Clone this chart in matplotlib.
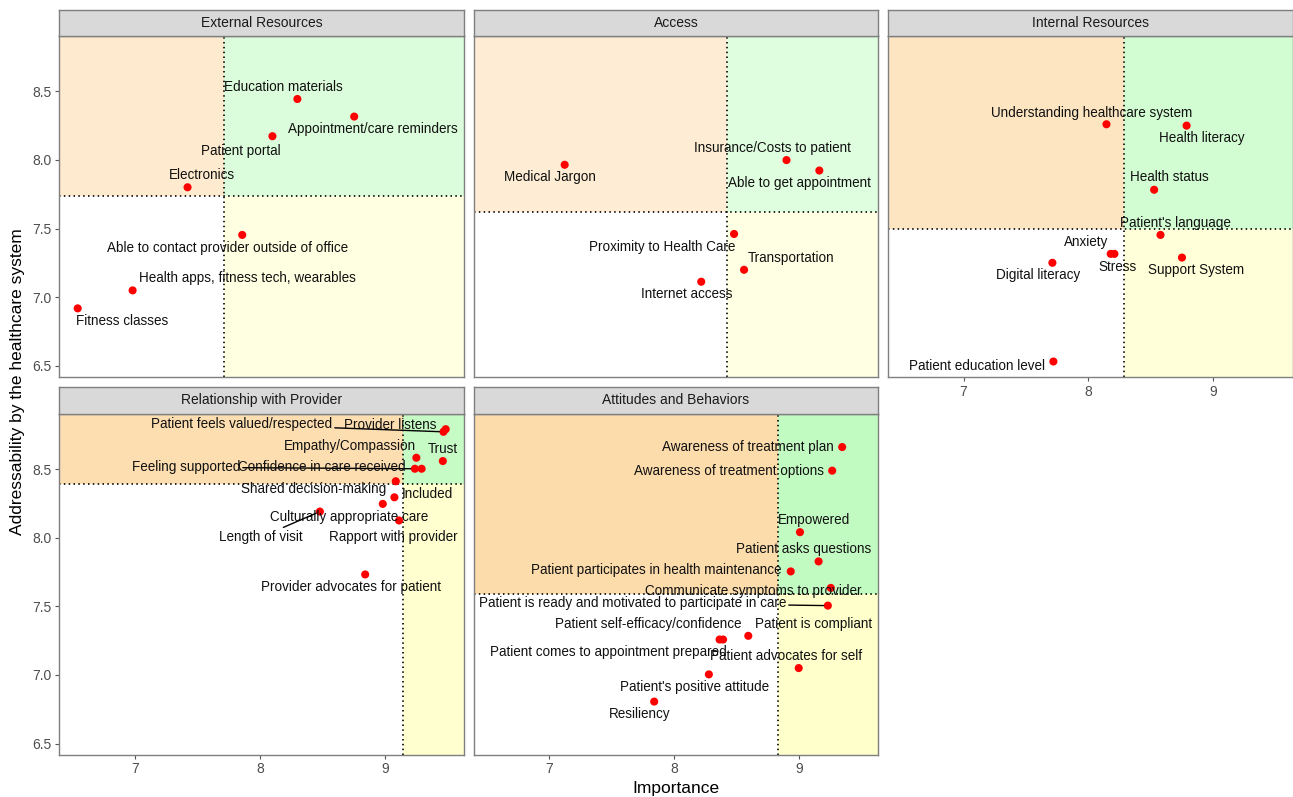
import matplotlib
matplotlib.use("Agg")
import matplotlib.pyplot as plt
from matplotlib.patches import Rectangle
import numpy as np

plt.rcParams['font.family'] = ['Liberation Sans', 'DejaVu Sans']

# ---------------------------------------------------------------- data
facets = ["External Resources", "Access", "Internal Resources",
          "Relationship with Provider", "Attitudes and Behaviors"]

ext_labels = ["Education materials", "Appointment/care reminders", "Patient portal",
              "Electronics", "Able to contact provider outside of office",
              "Health apps, fitness tech, wearables", "Fitness classes"]
ext_importance = [8.30, 8.755, 8.10, 7.42, 7.858, 6.98, 6.54]
ext_address = [8.444, 8.316, 8.173, 7.801, 7.454, 7.050, 6.919]

acc_labels = ["Medical Jargon", "Insurance/Costs to patient", "Able to get appointment",
              "Proximity to Health Care", "Transportation", "Internet access"]
acc_importance = [7.123, 8.90, 9.163, 8.48, 8.56, 8.217]
acc_address = [7.965, 7.999, 7.923, 7.461, 7.200, 7.113]

int_labels = ["Understanding healthcare system", "Health literacy", "Health status",
              "Patient's language", "Anxiety", "Stress", "Digital literacy",
              "Support System", "Patient education level"]
int_importance = [8.145, 8.787, 8.527, 8.578, 8.179, 8.209, 7.712, 8.75, 7.72]
int_address = [8.260, 8.250, 7.783, 7.454, 7.316, 7.316, 7.251, 7.289, 6.532]

rel_labels = ["Patient feels valued/respected", "Provider listens", "Trust",
              "Empathy/Compassion", "Feeling supported", "Confidence in care received",
              "Shared decision-making", "Included", "Culturally appropriate care",
              "Length of visit", "Rapport with provider", "Provider advocates for patient"]
rel_importance = [9.470, 9.488, 9.465, 9.253, 9.241, 9.295, 9.088, 9.077, 8.984,
                  8.480, 9.114, 8.843]
rel_address = [8.771, 8.790, 8.558, 8.582, 8.502, 8.502, 8.411, 8.294, 8.246,
               8.190, 8.125, 7.732]

att_labels = ["Awareness of treatment plan", "Awareness of treatment options", "Empowered",
              "Patient asks questions", "Patient participates in health maintenance",
              "Communicate symptoms to provider",
              "Patient is ready and motivated to participate in care",
              "Patient self-efficacy/confidence", "Patient comes to appointment prepared",
              "Patient is compliant", "Patient advocates for self",
              "Patient's positive attitude", "Resiliency"]
att_importance = [9.346, 9.266, 9.008, 9.157, 8.934, 9.255, 9.231, 8.364, 8.392,
                  8.594, 8.998, 8.278, 7.840]
att_address = [8.660, 8.488, 8.040, 7.827, 7.754, 7.634, 7.505, 7.258, 7.258,
               7.285, 7.050, 7.004, 6.806]

# quadrant cut points per facet
cut_importance = [7.709, 8.424, 8.288, 9.146, 8.830]
cut_address = [7.735, 7.618, 7.498, 8.389, 7.592]

x_ticks = [7, 8, 9]
y_ticks = [6.5, 7.0, 7.5, 8.0, 8.5]

panel_data = [
    (ext_labels, ext_importance, ext_address),
    (acc_labels, acc_importance, acc_address),
    (int_labels, int_importance, int_address),
    (rel_labels, rel_importance, rel_address),
    (att_labels, att_importance, att_address),
]

# ---------------------------------------------------------------- label layout
# text offsets from each point in pixels (dx right, dy down)
label_nudge = {
    "Education materials": (-14.5, -11.7),
    "Appointment/care reminders": (18.4, 12.6),
    "Patient portal": (-31.5, 14.4),
    "Electronics": (14.6, -12.7),
    "Able to contact provider outside of office": (-14.5, 12.7),
    "Health apps, fitness tech, wearables": (114.8, -12.0),
    "Fitness classes": (44.0, 12.7),
    "Medical Jargon": (-14.5, 12.7),
    "Insurance/Costs to patient": (-14.2, -12.3),
    "Able to get appointment": (-19.4, 12.6),
    "Proximity to Health Care": (-71.7, 12.7),
    "Transportation": (47.0, -12.0),
    "Internet access": (-14.5, 12.7),
    "Understanding healthcare system": (-14.5, -11.6),
    "Health literacy": (15.0, 12.0),
    "Health status": (15.0, -12.3),
    "Patient's language": (14.7, -12.0),
    "Anxiety": (-25.0, -12.0),
    "Stress": (3.1, 13.0),
    "Digital literacy": (-14.6, 12.7),
    "Support System": (14.3, 12.7),
    "Patient education level": (-76.3, 5.0),
    "Patient feels valued/respected": (-202.0, -7.4),
    "Provider listens": (-55.8, -4.7),
    "Trust": (0.0, -12.0),
    "Empathy/Compassion": (-66.9, -11.7),
    "Feeling supported": (-229.0, -1.4),
    "Confidence in care received": (-99.3, -1.4),
    "Shared decision-making": (-82.2, 7.4),
    "Included": (33.3, -3.3),
    "Culturally appropriate care": (-33.8, 12.7),
    "Length of visit": (-59.0, 25.6),
    "Rapport with provider": (-5.5, 16.6),
    "Provider advocates for patient": (-14.0, 12.3),
    "Awareness of treatment plan": (-94.0, 0.0),
    "Awareness of treatment options": (-103.0, 0.0),
    "Empowered": (14.5, -12.0),
    "Patient asks questions": (-14.8, -12.0),
    "Patient participates in health maintenance": (-134.0, -1.0),
    "Communicate symptoms to provider": (-78.0, 3.4),
    "Patient is ready and motivated to participate in care": (-195.5, -2.7),
    "Patient self-efficacy/confidence": (-71.5, -15.7),
    "Patient comes to appointment prepared": (-115.0, 12.7),
    "Patient is compliant": (65.0, -12.0),
    "Patient advocates for self": (-12.5, -11.7),
    "Patient's positive attitude": (-14.5, 12.7),
    "Resiliency": (-14.5, 12.7),
}
with_segment = {"Patient feels valued/respected", "Feeling supported",
                "Length of visit",
                "Patient is ready and motivated to participate in care"}

# ---------------------------------------------------------------- figure
W, H = 1293, 797
fig = plt.figure(figsize=(W / 100, H / 100), dpi=100)


def px_axes(left, top, width, height):
    return fig.add_axes([left / W, 1 - (top + height) / H, width / W, height / H])


col_left = [59.3, 473.5, 887.7]
panel_w = 404.8
row_top = [36.0, 413.7]
panel_h = 341.0
strip_h = 26.5

# shared scales with 5% expansion
all_x = np.concatenate([np.asarray(d[1]) for d in panel_data])
all_y = np.concatenate([np.asarray(d[2]) for d in panel_data])
xr = all_x.max() - all_x.min()
yr = all_y.max() - all_y.min()
xlim = (all_x.min() - 0.05 * xr, all_x.max() + 0.05 * xr)
ylim = (all_y.min() - 0.05 * yr, all_y.max() + 0.05 * yr)

orange = np.array([250, 150, 0]) / 255
green = np.array([70, 245, 70]) / 255
yellow = np.array([255, 255, 100]) / 255
layer_alpha = 0.03

border = "#7F7F7F"
tick_col = "#4D4D4D"
dotted = (0, (0.9, 2.0))

for i, (name, (labels, imp, adr)) in enumerate(zip(facets, panel_data)):
    r, c = divmod(i, 3)
    ax = px_axes(col_left[c], row_top[r], panel_w, panel_h)
    ax.set_xlim(*xlim)
    ax.set_ylim(*ylim)

    # quadrant shading, stacked once per row of the facet
    a = 1 - (1 - layer_alpha) ** len(labels)
    cx, cy = cut_importance[i], cut_address[i]
    for (x0, x1, y0, y1, col) in [
        (xlim[0], cx, cy, ylim[1], orange),
        (cx, xlim[1], cy, ylim[1], green),
        (cx, xlim[1], ylim[0], cy, yellow),
    ]:
        ax.add_patch(Rectangle((x0, y0), x1 - x0, y1 - y0, facecolor=col,
                               alpha=a, edgecolor="none", zorder=0))
    ax.axvline(cx, color="black", lw=1.2, linestyle=dotted, zorder=1)
    ax.axhline(cy, color="black", lw=1.2, linestyle=dotted, zorder=1)
    ax.set_xlim(*xlim)
    ax.set_ylim(*ylim)

    ax.scatter(imp, adr, s=34, color="#FF0000", edgecolors="none", zorder=3)

    for lab, xv, yv in zip(labels, imp, adr):
        dx, dy = label_nudge[lab]
        kw = {}
        if lab in with_segment:
            kw["arrowprops"] = dict(arrowstyle="-", color="black", lw=1.0,
                                    shrinkA=0, shrinkB=3)
        ax.annotate(lab, (xv, yv), xytext=(dx, -dy), textcoords="offset pixels",
                    ha="center", va="center", fontsize=9.75, color="#111111",
                    zorder=4, **kw)

    for sp in ax.spines.values():
        sp.set_color(border)
        sp.set_linewidth(1.0)
    ax.set_xticks(x_ticks)
    ax.set_yticks(y_ticks)
    ax.set_yticklabels([f"{v:.1f}" for v in y_ticks])
    ax.tick_params(colors="#555555", labelcolor=tick_col, labelsize=10,
                   length=3, width=0.8, pad=2.5)
    show_x = (r == 1) or (c == 2)
    show_y = (c == 0)
    ax.tick_params(axis="x", bottom=show_x, labelbottom=show_x)
    ax.tick_params(axis="y", left=show_y, labelleft=show_y)

    # facet strip
    sax = px_axes(col_left[c], row_top[r] - strip_h, panel_w, strip_h)
    sax.set_facecolor("#D9D9D9")
    sax.set_xticks([])
    sax.set_yticks([])
    for sp in sax.spines.values():
        sp.set_color(border)
        sp.set_linewidth(1.0)
    sax.text(0.5, 0.5, name, ha="center", va="center", fontsize=10,
             color="#1A1A1A", transform=sax.transAxes)

fig.text((col_left[0] + col_left[2] + panel_w) / 2 / W, 1 - 788 / H, "Importance",
         ha="center", va="center", fontsize=12.5)
fig.text(18 / W, 1 - (row_top[0] - strip_h + row_top[1] + panel_h) / 2 / H,
         "Addressability by the healthcare system", ha="center", va="center",
         rotation=90, fontsize=12.5)

fig.savefig("out.png", dpi=100)
